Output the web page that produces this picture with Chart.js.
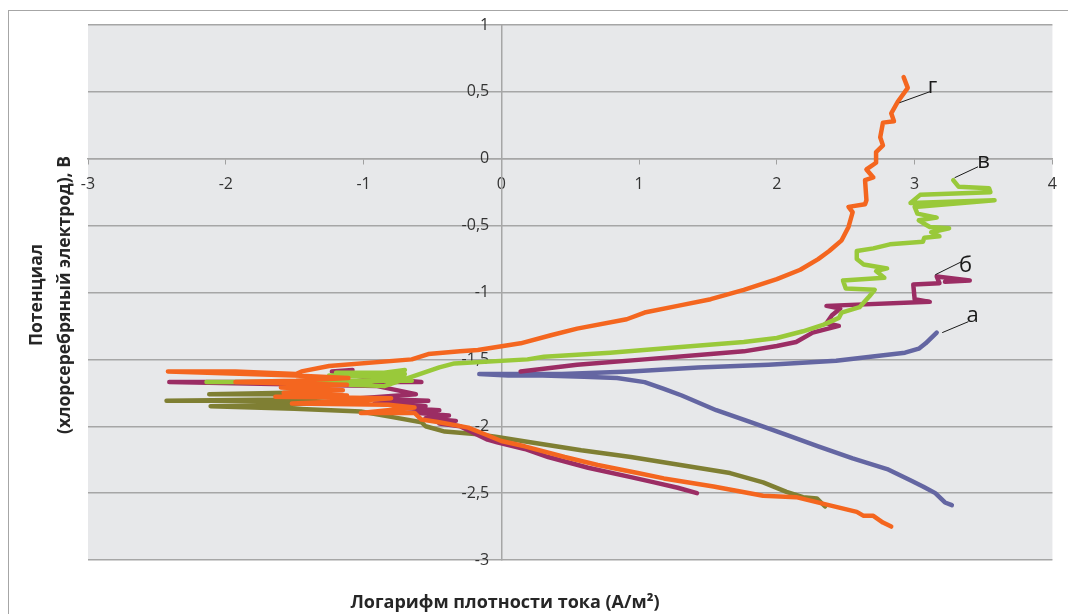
<!DOCTYPE html>
<html><head><meta charset="utf-8">
<script src="https://cdn.jsdelivr.net/npm/chart.js@4"></script>
<style>
html,body{margin:0;padding:0;background:#fff;}
#wrap{position:relative;width:1068px;height:614px;overflow:hidden;}
#frame{position:absolute;left:8px;top:10px;width:1100px;height:700px;border:1.5px solid #a6a6a6;box-sizing:border-box;}
#c{position:absolute;left:0;top:0;}
#xt{position:absolute;left:0;width:1010px;top:588px;text-align:center;font:bold 18px "Open Sans",sans-serif;color:#262626;line-height:26px;}
#yt{position:absolute;left:-151px;top:267px;width:400px;height:56px;text-align:center;font:bold 17.5px "Open Sans",sans-serif;color:#262626;line-height:28px;transform:rotate(-90deg);transform-origin:50% 50%;}
</style></head>
<body>
<div id="wrap">
<div id="frame"></div>
<canvas id="c" width="1068" height="614"></canvas>
<div id="xt">Логарифм плотности тока (А/м²)</div>
<div id="yt">Потенциал<br>(хлорсеребряный электрод), В</div>
</div>
<script>
// ---- data (x = lg i, y = potential, V) ----
const aX = [3.27, 3.22, 3.15, 3.06, 2.98, 2.80, 2.55, 2.30, 2.06, 1.81, 1.56, 1.31, 1.18, 1.04, 0.84, 0.60, 0.30, 0.05, -0.16, 0.10, 0.44, 0.94, 1.43, 1.94, 2.43, 2.68, 2.93, 3.03, 3.08, 3.16];
const aY = [-2.59, -2.57, -2.50, -2.45, -2.41, -2.32, -2.24, -2.15, -2.06, -1.97, -1.88, -1.77, -1.72, -1.67, -1.64, -1.63, -1.62, -1.62, -1.61, -1.61, -1.61, -1.59, -1.56, -1.54, -1.51, -1.48, -1.45, -1.42, -1.38, -1.30];

const bX = [1.42, 1.28, 1.11, 0.94, 0.63, 0.34, 0.17, -0.03, -0.10, -0.30, -0.45, -0.33, -0.55, -0.38, -0.62, -0.45, -0.77, -0.55, -0.92, -0.53, -1.02, -0.62, -0.90, -2.41, -0.58, -0.95, -1.23, -1.08, null, 0.14, 0.55, 1.04, 1.52, 1.76, 2.00, 2.14, 2.26, 2.45, 2.36, 2.40, 2.46, 2.36, 3.11, 3.00, 2.99, 3.18, 3.16, 3.40, 3.22];
const bY = [-2.50, -2.46, -2.42, -2.38, -2.31, -2.23, -2.17, -2.12, -2.10, -2.00, -1.98, -1.96, -1.94, -1.92, -1.90, -1.88, -1.86, -1.85, -1.83, -1.81, -1.79, -1.76, -1.70, -1.67, -1.67, -1.64, -1.59, -1.58, null, -1.59, -1.54, -1.50, -1.46, -1.44, -1.40, -1.37, -1.30, -1.25, -1.23, -1.17, -1.12, -1.10, -1.07, -1.05, -0.94, -0.93, -0.88, -0.91, -0.92];

const vX = [-2.14, -1.50, -1.23, -0.65, -0.72, -1.25, -0.70, -1.20, -0.85, -0.70, -0.80, -1.10, -0.85, -0.62, -0.45, -0.34, 0.19, 0.31, 0.79, 1.28, 1.76, 2.00, 2.19, 2.34, 2.45, 2.47, 2.60, 2.67, 2.71, 2.50, 2.48, 2.78, 2.72, 2.80, 2.63, 2.58, 2.58, 2.70, 2.82, 3.06, 3.07, 3.18, 3.12, 3.25, 3.11, 3.06, 3.03, 3.16, 3.02, 3.00, 3.58, 2.97, 3.04, 3.55, 3.54, 3.32, 3.28];
const vY = [-1.67, -1.67, -1.66, -1.66, -1.63, -1.62, -1.61, -1.60, -1.60, -1.58, -1.64, -1.69, -1.70, -1.62, -1.56, -1.53, -1.50, -1.48, -1.45, -1.41, -1.37, -1.34, -1.29, -1.24, -1.19, -1.15, -1.11, -1.03, -0.98, -0.97, -0.91, -0.89, -0.84, -0.82, -0.79, -0.75, -0.69, -0.67, -0.64, -0.62, -0.59, -0.58, -0.55, -0.52, -0.51, -0.48, -0.46, -0.44, -0.41, -0.36, -0.31, -0.33, -0.27, -0.25, -0.22, -0.21, -0.16];

const gX = [2.83, 2.77, 2.70, 2.63, 2.58, 2.34, 2.14, 1.90, 1.54, 1.18, 0.99, 0.70, 0.46, 0.17, 0.00, -0.12, -0.24, -0.45, -0.58, -0.63, -1.02, -0.63, -0.82, -1.52, -1.04, -0.80, -1.64, -1.12, -1.58, -1.15, -1.60, -1.12, -1.55, -1.93, -1.49, -1.11, -1.50, -2.42, -1.93, -1.49, -1.45, -1.25, -0.65, -0.53, -0.30, -0.17, 0.14, 0.36, 0.55, 0.91, 1.04, 1.28, 1.52, 1.76, 2.00, 2.17, 2.30, 2.38, 2.47, 2.52, 2.55, 2.52, 2.64, 2.65, 2.64, 2.70, 2.65, 2.72, 2.72, 2.77, 2.75, 2.77, 2.85, 2.83, 2.88, 2.95, 2.92];
const gY = [-2.75, -2.72, -2.67, -2.67, -2.64, -2.58, -2.53, -2.52, -2.45, -2.39, -2.35, -2.29, -2.23, -2.15, -2.11, -2.06, -2.01, -1.97, -1.95, -1.90, -1.90, -1.86, -1.84, -1.83, -1.81, -1.79, -1.78, -1.77, -1.75, -1.73, -1.71, -1.69, -1.68, -1.67, -1.66, -1.64, -1.62, -1.59, -1.59, -1.61, -1.59, -1.55, -1.50, -1.46, -1.44, -1.43, -1.38, -1.32, -1.27, -1.20, -1.15, -1.10, -1.05, -0.98, -0.90, -0.83, -0.75, -0.69, -0.61, -0.51, -0.40, -0.36, -0.34, -0.31, -0.16, -0.14, -0.08, -0.03, 0.05, 0.10, 0.16, 0.27, 0.28, 0.34, 0.43, 0.53, 0.61];

const oX = [2.35, 2.29, 2.19, 2.07, 1.90, 1.66, 1.30, 0.94, 0.58, 0.21, -0.03, -0.17, -0.41, -0.55, -0.58, -0.80, -1.02, -1.50, -2.11, -1.60, -1.20, -1.60, -2.43, -1.60, -1.25, -1.50, -2.12, -1.55, -1.25];
const oY = [-2.60, -2.54, -2.53, -2.49, -2.42, -2.35, -2.29, -2.23, -2.18, -2.12, -2.08, -2.06, -2.04, -2.00, -1.97, -1.93, -1.89, -1.87, -1.85, -1.84, -1.82, -1.81, -1.81, -1.80, -1.78, -1.76, -1.76, -1.75, -1.74];

// axis ranges / ticks
const xRange = [-3, 4];
const yRange = [-3, 1];
const xStep = 1;
const yStep = 0.5;

// curve labels and their leader lines (data coordinates)
const labelText = ['а', 'б', 'в', 'г'];
const labelAtX = [3.42, 3.37, 3.50, 3.13];
const labelAtY = [-1.22, -0.845, -0.067, 0.49];
const leadFromX = [3.20, 3.15, 3.29, 2.89];
const leadFromY = [-1.30, -0.867, -0.142, 0.419];
const leadToX = [3.39, 3.34, 3.46, 3.11];
const leadToY = [-1.218, -0.770, -0.060, 0.501];

function pts(xs, ys) { return xs.map((x, i) => ({x: x, y: ys[i]})); }

const lineStyle = {showLine: true, pointRadius: 0, pointHoverRadius: 0, borderWidth: 4.5, tension: 0,
  borderJoinStyle: 'round', borderCapStyle: 'round', spanGaps: false, fill: false};

const plotBg = {
  id: 'plotBg',
  beforeDraw(chart) {
    const {ctx, chartArea: a} = chart;
    ctx.save();
    ctx.fillStyle = '#e7e8ea';
    ctx.fillRect(a.left, a.top, a.right - a.left, a.bottom - a.top);
    ctx.restore();
  }
};

const curveLabels = {
  id: 'curveLabels',
  afterDatasetsDraw(chart) {
    const {ctx, scales: {x, y}} = chart;
    ctx.save();
    ctx.strokeStyle = '#1a1a1a';
    ctx.lineWidth = 1;
    ctx.fillStyle = '#1a1a1a';
    ctx.font = '22px "Open Sans", sans-serif';
    ctx.textAlign = 'center';
    ctx.textBaseline = 'alphabetic';
    for (let i = 0; i < labelText.length; i++) {
      ctx.beginPath();
      ctx.moveTo(x.getPixelForValue(leadFromX[i]), y.getPixelForValue(leadFromY[i]));
      ctx.lineTo(x.getPixelForValue(leadToX[i]), y.getPixelForValue(leadToY[i]));
      ctx.stroke();
      ctx.fillText(labelText[i], x.getPixelForValue(labelAtX[i]), y.getPixelForValue(labelAtY[i]));
    }
    ctx.restore();
  }
};

const tickFont = {family: '"Open Sans", sans-serif', size: 16};
const fmt = v => String(v).replace('.', ',');

new Chart(document.getElementById('c'), {
  type: 'scatter',
  data: {
    datasets: [
      Object.assign({label: 'г', data: pts(gX, gY), borderColor: '#f4661f', backgroundColor: '#f4661f'}, lineStyle),
      Object.assign({label: 'в', data: pts(vX, vY), borderColor: '#99c93a', backgroundColor: '#99c93a'}, lineStyle),
      Object.assign({label: 'б', data: pts(bX, bY), borderColor: '#9b2d64', backgroundColor: '#9b2d64'}, lineStyle),
      Object.assign({label: '', data: pts(oX, oY), borderColor: '#7f7f33', backgroundColor: '#7f7f33'}, lineStyle),
      Object.assign({label: 'а', data: pts(aX, aY), borderColor: '#6466a2', backgroundColor: '#6466a2'}, lineStyle)
    ]
  },
  options: {
    responsive: false,
    devicePixelRatio: 1,
    animation: false,
    layout: {padding: {left: 88, right: 11, top: 25, bottom: 54}},
    plugins: {legend: {display: false}, tooltip: {enabled: false}, title: {display: false}},
    scales: {
      x: {
        type: 'linear', min: xRange[0], max: xRange[1], position: {y: 0},
        ticks: {stepSize: xStep, color: '#333333', font: tickFont, padding: 11, callback: fmt},
        grid: {display: true, drawOnChartArea: false, drawTicks: true, tickLength: 5, color: '#a0a0a0', lineWidth: 1},
        border: {display: true, color: '#a6a6a6', width: 1.5}
      },
      y: {
        type: 'linear', min: yRange[0], max: yRange[1], position: {x: 0},
        ticks: {stepSize: yStep, color: '#333333', font: tickFont, padding: 15,
          callback: v => fmt(v) + '\u2002 '},
        grid: {display: true, drawOnChartArea: true, drawTicks: false, color: '#a6a6a6', lineWidth: 1.4},
        border: {display: true, color: '#a6a6a6', width: 1.5}
      }
    }
  },
  plugins: [plotBg, curveLabels]
});
</script>
</body></html>
